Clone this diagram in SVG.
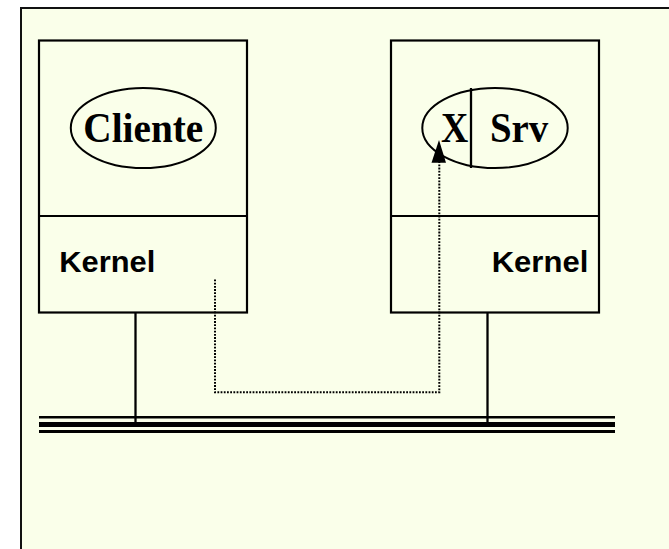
<svg xmlns="http://www.w3.org/2000/svg" width="669" height="549" viewBox="0 0 669 549">
  <style>
    .frame { fill: #FAFFEA; stroke: #111; stroke-width: 2; }
    .box { fill: none; stroke: #000; stroke-width: 2.2; }
    .ell { fill: none; stroke: #000; stroke-width: 2; }
    .proc { font-family: "Liberation Serif", "Times New Roman", serif; font-weight: bold; font-size: 43px; fill: #000; }
    .kern { font-family: "Liberation Sans", Arial, sans-serif; font-weight: bold; font-size: 30px; fill: #000; }
    .wire { stroke: #000; stroke-width: 2.3; fill: none; }
    .dot { stroke: #000; stroke-width: 2; fill: none; stroke-dasharray: 1.8 1.4; }
  </style>
  <rect x="0" y="0" width="669" height="549" fill="#ffffff"/>
  <rect class="frame" x="21" y="8" width="660" height="560"/>

  <g id="cliente-host">
    <rect class="box" x="39" y="40.5" width="208" height="272"/>
    <line class="box" x1="39" y1="216" x2="247" y2="216"/>
    <text class="kern" x="59.3" y="272" textLength="96" lengthAdjust="spacingAndGlyphs">Kernel</text>
  </g>
  <g id="cliente">
    <ellipse class="ell" cx="143.3" cy="128" rx="72.5" ry="40"/>
    <text class="proc" x="83.3" y="142" textLength="120" lengthAdjust="spacingAndGlyphs">Cliente</text>
  </g>

  <g id="server-host">
    <rect class="box" x="391" y="40.5" width="208" height="272"/>
    <line class="box" x1="391" y1="216" x2="599" y2="216"/>
    <text class="kern" x="491.7" y="272" textLength="96.6" lengthAdjust="spacingAndGlyphs">Kernel</text>
  </g>
  <g id="server">
    <ellipse class="ell" cx="495" cy="128" rx="72.7" ry="40"/>
    <line class="wire" x1="471" y1="88" x2="471" y2="168"/>
    <text class="proc" x="441" y="142" textLength="27.3" lengthAdjust="spacingAndGlyphs">X</text>
    <text class="proc" x="490" y="142" textLength="58.3" lengthAdjust="spacingAndGlyphs">Srv</text>
  </g>

  <g id="network">
    <line x1="39" y1="417.2" x2="615" y2="417.2" stroke="#000" stroke-width="2.4"/>
    <line x1="39" y1="424.5" x2="615" y2="424.5" stroke="#000" stroke-width="5"/>
    <line x1="39" y1="431.5" x2="615" y2="431.5" stroke="#000" stroke-width="3"/>
  </g>

  <g id="connectors">
    <line class="wire" x1="135.5" y1="313" x2="135.5" y2="422"/>
    <line class="wire" x1="487.5" y1="313" x2="487.5" y2="422"/>
    <path class="dot" d="M215,279.5 L215,392.3 L439.3,392.3 L439.3,162" />
    <path d="M439,140 L446,162.7 L431.5,162.7 Z" fill="#000"/>
  </g>
</svg>
